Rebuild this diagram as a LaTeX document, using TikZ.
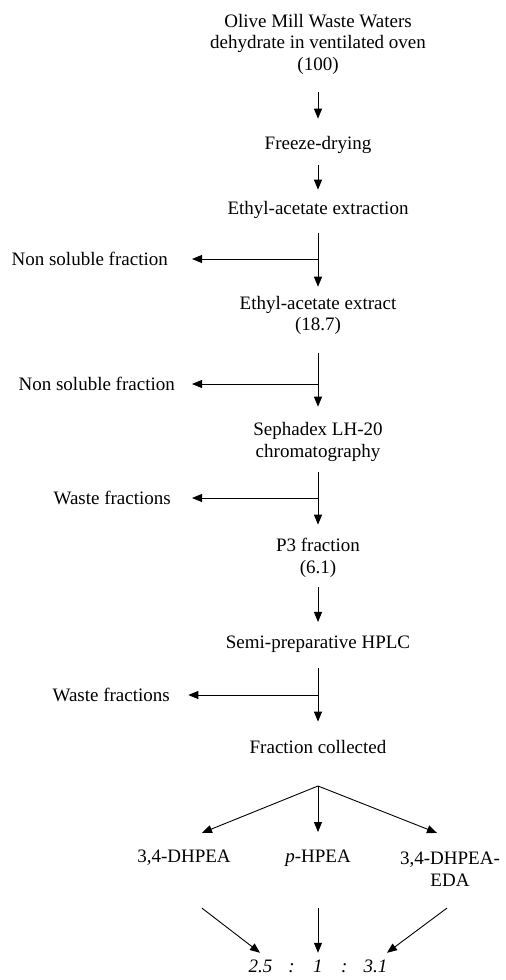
\documentclass[tikz,border=0pt]{standalone}
\usepackage{fontspec}
\setmainfont{Liberation Serif}
\usetikzlibrary{arrows.meta}
\begin{document}
\begin{tikzpicture}[x=1pt,y=-1pt,
  lbl/.style={align=center,font=\fontsize{19}{21.5}\selectfont,inner sep=3pt},
  arr/.style={draw,line width=0.9pt,-{Triangle[length=10pt,width=8pt]}}]
\useasboundingbox (0,0) rectangle (506,980);
% main column
\node[lbl] (olive) at (318,44) {Olive Mill Waste Waters\\dehydrate in ventilated oven\\(100)};
\node[lbl] (freeze) at (318,145) {Freeze-drying};
\node[lbl] (ethyl) at (318,210) {Ethyl-acetate extraction};
\node[lbl] (extract) at (318,315.5) {Ethyl-acetate extract\\(18.7)};
\node[lbl] (sephadex) at (318,442) {Sephadex LH-20\\chromatography};
\node[lbl] (p3) at (318,558) {P3 fraction\\(6.1)};
\node[lbl] (hplc) at (318,644) {Semi-preparative HPLC};
\node[lbl] (collected) at (318,746.5) {Fraction collected};
% side outputs
\node[lbl,anchor=east] (nonsolA) at (171,259) {Non soluble fraction};
\node[lbl,anchor=east] (nonsolB) at (178,384) {Non soluble fraction};
\node[lbl,anchor=east] (wasteA) at (174,498) {Waste fractions};
\node[lbl,anchor=east] (wasteB) at (173,695) {Waste fractions};
% products
\node[lbl] (dhpea) at (184,858) {3,4-DHPEA};
\node[lbl] (hpea) at (318,858) {\textit{p}-HPEA};
\node[lbl] (eda) at (450,869) {3,4-DHPEA-\\EDA};
\node[lbl,font=\itshape\fontsize{19}{21.5}\selectfont] (ratio) at (318,966)
  {2.5\hspace{16pt}:\hspace{18.5pt}1\hspace{18.5pt}:\hspace{16pt}3.1};
% junctions
\coordinate (j1) at (318,259);
\coordinate (j2) at (318,384);
\coordinate (j3) at (318,498);
\coordinate (j4) at (318,695);
\coordinate (apex) at (318,786);
% main arrows
\draw[arr,shorten <=15pt,shorten >=14.5pt] (olive) -- (freeze);
\draw[arr,shorten <=8.5pt,shorten >=8.5pt] (freeze) -- (ethyl);
\draw[arr,shorten <=11.5pt,shorten >=6.2pt] (ethyl) -- (extract);
\draw[arr,shorten <=15.2pt,shorten >=12.7pt] (extract) -- (sephadex);
\draw[arr,shorten <=7.7pt,shorten >=10.7pt] (sephadex) -- (p3);
\draw[arr,shorten <=6.7pt,shorten >=10.5pt] (p3) -- (hplc);
\draw[arr,shorten <=12.5pt,shorten >=15pt] (hplc) -- (collected);
% branches
\draw[arr,shorten >=21pt] (j1) -- (nonsolA);
\draw[arr,shorten >=14pt] (j2) -- (nonsolB);
\draw[arr,shorten >=18pt] (j3) -- (wasteA);
\draw[arr,shorten >=15.3pt] (j4) -- (wasteB);
% tree
\draw[arr] (apex) -- ([shift={(18,-14.2)}]dhpea.north);
\draw[arr,shorten >=14.5pt] (apex) -- (hpea);
\draw[arr] (apex) -- ([shift={(-13,-15.8)}]eda.north);
% to ratio
\draw[arr] ([shift={(18,39.2)}]dhpea.south) -- ([shift={(-58,-3.6)}]ratio.north);
\draw[arr,shorten <=38.5pt,shorten >=3.6pt] (hpea) -- (ratio);
\draw[arr] ([shift={(-3,18.8)}]eda.south) -- ([shift={(69,-3.6)}]ratio.north);
\end{tikzpicture}
\end{document}
